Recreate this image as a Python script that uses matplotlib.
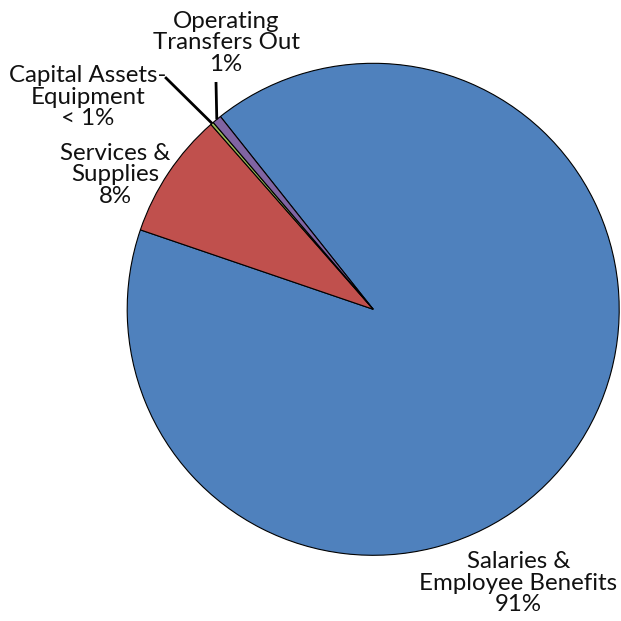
import numpy as np
import matplotlib
matplotlib.use("Agg")
import matplotlib.pyplot as plt

plt.rcParams['font.family'] = ['Lato', 'DejaVu Sans']

categories = ["Salaries &\nEmployee Benefits", "Services &\nSupplies",
              "Capital Assets-\nEquipment", "Operating\nTransfers Out"]
shares = [90.9, 8.3, 0.2, 0.6]
pct_labels = ["91%", "8%", "< 1%", "1%"]
colors = ["#4F81BD", "#C0504D", "#9BBB59", "#8064A2"]

W = H = 621
cx, cy, R = 373.2, 309.3, 246.0

fig = plt.figure(figsize=(W / 100, H / 100), dpi=100)
ax = fig.add_axes([(cx - R) / W, (H - cy - R) / H, 2 * R / W, 2 * R / H])

wedges, _ = ax.pie(shares, colors=colors, startangle=128.4, counterclock=False,
                   radius=1.0, wedgeprops=dict(edgecolor="black", linewidth=0.8))
ax.set_xlim(-1, 1)
ax.set_ylim(-1, 1)
ax.set_aspect("equal")
ax.axis("off")

# label block centres (data units, pie radius = 1)
label_pos = [(0.59, -1.113), (-1.05, 0.546), (-1.159, 0.863), (-0.598, 1.083)]
# where leader lines stop (None = no leader)
leader_end = [None, None, (-0.846, 0.944), (-0.639, 0.924)]

for w, cat, pct, pos, lend in zip(wedges, categories, pct_labels, label_pos, leader_end):
    mid = np.deg2rad((w.theta1 + w.theta2) / 2)
    ax.text(pos[0], pos[1], f"{cat}\n{pct}", ha="center", va="center",
            fontsize=17.3, linespacing=1.03, color="#111111")
    if lend is not None:
        ax.plot([np.cos(mid), lend[0]], [np.sin(mid), lend[1]],
                color="black", linewidth=2.0, solid_capstyle="butt", clip_on=False)

fig.savefig("out.png", dpi=100)
